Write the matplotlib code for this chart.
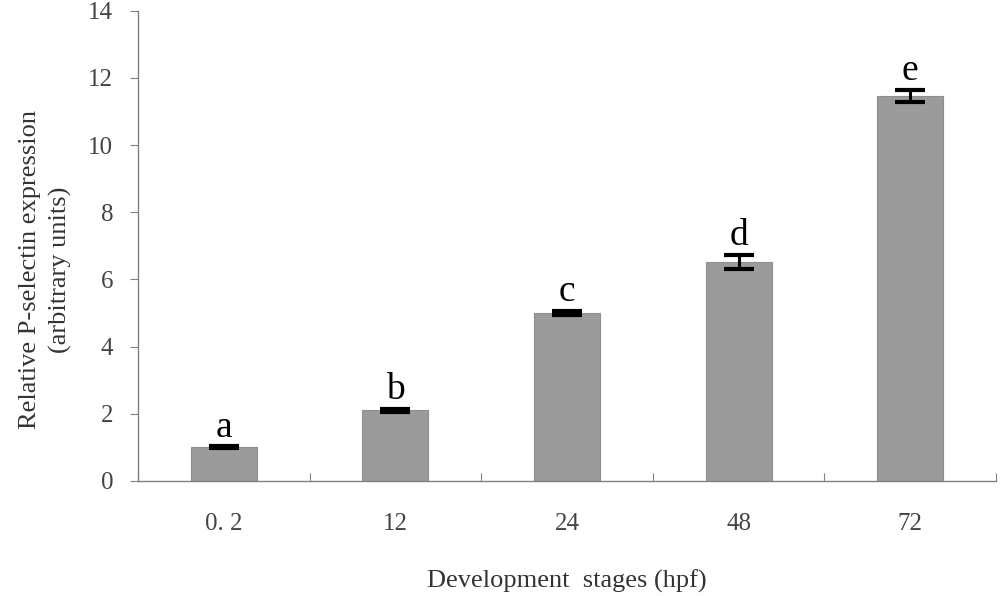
import numpy as np
import matplotlib.pyplot as plt

# development stages and relative expression
stages = ['0. 2', '12', '24', '48', '72']
expression = [1.0, 2.1, 5.0, 6.52, 11.47]
errors = [0.03, 0.05, 0.06, 0.22, 0.18]
letters = ['a', 'b', 'c', 'd', 'e']

plt.rcParams['font.family'] = ['Liberation Serif', 'DejaVu Serif']

fig = plt.figure(figsize=(10, 5.96), dpi=100)
ax = fig.add_axes([0.138, 0.193, 0.858, 0.789])

x = np.arange(len(stages))
ax.bar(x, expression, width=0.385, color='#9b9b9b', edgecolor='#8e8e8e', linewidth=0.8, zorder=2)
ax.errorbar(x, expression, yerr=errors, fmt='none', ecolor='black',
            elinewidth=2.2, capsize=10.5, capthick=3.0, zorder=3)

for xi, v, e, lab in zip(x, expression, errors, letters):
    ax.text(xi, v + e + 0.05, lab, ha='center', va='bottom', fontsize=27, color='black')

ax.set_xlim(-0.5, len(stages) - 0.5)
ax.set_ylim(0, 14)
ax.set_yticks(range(0, 15, 2))

# category labels centred, ticks at boundaries pointing inward
ax.set_xticks(np.arange(-0.5, len(stages), 1.0))
ax.set_xticklabels([])
ax.set_xticks(x, minor=True)
ax.set_xticklabels(stages, minor=True)
ax.tick_params(axis='x', which='major', direction='in', length=6, color='#808080')
ax.tick_params(axis='x', which='minor', length=0, pad=23, labelsize=18, labelcolor='#444444')
ax.tick_params(axis='y', direction='out', length=6, color='#808080', pad=12,
               labelsize=18, labelcolor='#444444')

for side in ['top', 'right']:
    ax.spines[side].set_visible(False)
for side in ['left', 'bottom']:
    ax.spines[side].set_color('#808080')
    ax.spines[side].set_linewidth(1.0)

ax.set_ylabel('Relative P-selectin expression\n(arbitrary units)', fontsize=19,
              color='#333333', linespacing=1.45)
ax.yaxis.set_label_coords(-0.077, 0.45)
ax.set_xlabel('Development  stages (hpf)', fontsize=19, color='#333333', labelpad=25)

fig.savefig('out.png', dpi=100)
